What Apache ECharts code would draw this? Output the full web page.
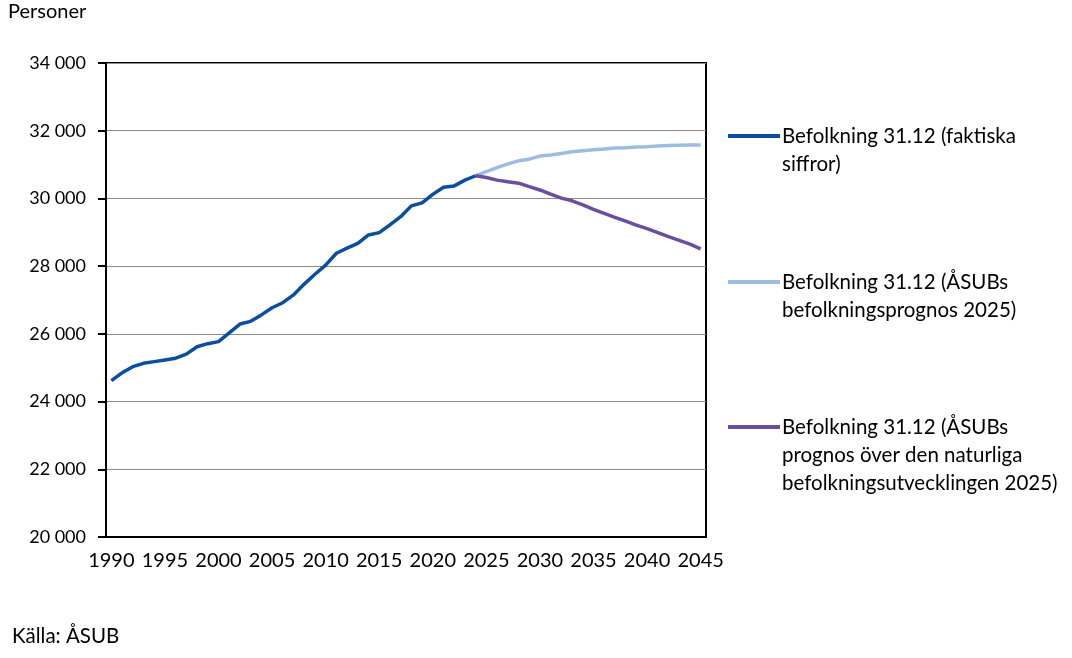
<!DOCTYPE html>
<html><head><meta charset="utf-8">
<script src="https://cdn.jsdelivr.net/npm/echarts@6/dist/echarts.min.js"></script>
<style>html,body{margin:0;padding:0;background:#fff}#c{width:1072px;height:658px}</style>
</head><body><div id="c"></div>
<script>
const years = [];
for (let y = 1990; y <= 2045; y++) years.push(String(y));

const actual = [24620,24850,25030,25130,25180,25230,25280,25400,25620,25710,
  25770,26030,26290,26370,26560,26770,26920,27150,27470,27760,
  28030,28380,28530,28670,28920,28990,29220,29460,29780,29870,
  30120,30330,30370,30540,30670];
// forecasts start at 2024
const forecast = [30670,30790,30910,31020,31110,31160,31250,31280,31330,31380,31410,
  31440,31460,31490,31500,31520,31530,31550,31560,31570,31580,31580];
const natural = [30670,30620,30540,30490,30450,30350,30250,30130,30010,29930,29810,
  29680,29560,29440,29330,29210,29110,28990,28870,28760,28650,28510];

const names = ['Befolkning 31.12 (faktiska siffror)',
  'Befolkning 31.12 (ÅSUBs befolkningsprognos 2025)',
  'Befolkning 31.12 (ÅSUBs prognos över den naturliga befolkningsutvecklingen 2025)'];
const legendLines = [
  ['Befolkning 31.12 (faktiska', 'siffror)'],
  ['Befolkning 31.12 (ÅSUBs', 'befolkningsprognos 2025)'],
  ['Befolkning 31.12 (ÅSUBs', 'prognos över den naturliga', 'befolkningsutvecklingen 2025)']
];
const colors = ['#0A4EA2', '#9DBCE1', '#6A4FA0'];

function pad(arr, startIdx) {
  const out = years.map(() => null);
  arr.forEach((v, i) => { out[startIdx + i] = v; });
  return out;
}
const FONT = 'Lato';
const LH = 28;
const legendTops = [136, 282, 427];

const chart = echarts.init(document.getElementById('c'), null, {renderer: 'canvas'});
chart.setOption({
  animation: false,
  textStyle: {fontFamily: FONT},
  grid: {left: 106, right: 366, top: 63, bottom: 121, show: true, borderColor: '#000', borderWidth: 2, containLabel: false},
  legend: legendLines.map((lines, i) => {
    const blanks = new Array(lines.length - 1).fill('');
    const text = blanks.concat(lines).join('\n');
    const total = (lines.length - 1) * 2 + 1;
    return {
      data: [names[i]],
      left: 728,
      top: legendTops[i] - total * LH / 2,
      orient: 'vertical',
      icon: 'rect',
      itemWidth: 52,
      itemHeight: 4,
      itemGap: 0,
      padding: 0,
      selectedMode: false,
      formatter: () => text,
      textStyle: {fontFamily: FONT, fontSize: 20.5, color: '#000', lineHeight: LH, padding: [0, 0, 0, -3]}
    };
  }),
  xAxis: {
    type: 'category',
    data: years,
    boundaryGap: true,
    axisLine: {lineStyle: {color: '#000', width: 2}},
    axisTick: {interval: 4, length: 8, lineStyle: {color: '#000', width: 2}},
    axisLabel: {interval: 4, color: '#000', fontSize: 20, fontFamily: FONT, margin: 14},
    splitLine: {show: false}
  },
  yAxis: {
    type: 'value',
    min: 20000, max: 34000, interval: 2000,
    axisLine: {show: true, lineStyle: {color: '#000', width: 2}},
    axisTick: {show: true, length: 8, lineStyle: {color: '#000', width: 2}},
    axisLabel: {color: '#000', fontSize: 18, fontFamily: FONT, margin: 20,
      formatter: v => String(v).replace(/\B(?=(\d{3})+(?!\d))/g, ' ')},
    splitLine: {lineStyle: {color: '#8C8C8C', width: 1}}
  },
  graphic: [
    {type: 'text', left: 8, top: 2, style: {text: 'Personer', fontSize: 20, fontFamily: FONT, fill: '#000'}},
    {type: 'text', left: 12, top: 626, style: {text: 'Källa: ÅSUB', fontSize: 20.5, fontFamily: FONT, fill: '#000'}}
  ],
  series: [
    {name: names[1], type: 'line', data: pad(forecast, 34), showSymbol: false, symbol: 'none',
     lineStyle: {color: colors[1], width: 3.5}, itemStyle: {color: colors[1]}},
    {name: names[2], type: 'line', data: pad(natural, 34), showSymbol: false, symbol: 'none',
     lineStyle: {color: colors[2], width: 3.5}, itemStyle: {color: colors[2]}},
    {name: names[0], type: 'line', data: pad(actual, 0), showSymbol: false, symbol: 'none',
     lineStyle: {color: colors[0], width: 3.5}, itemStyle: {color: colors[0]}}
  ]
});
</script></body></html>
